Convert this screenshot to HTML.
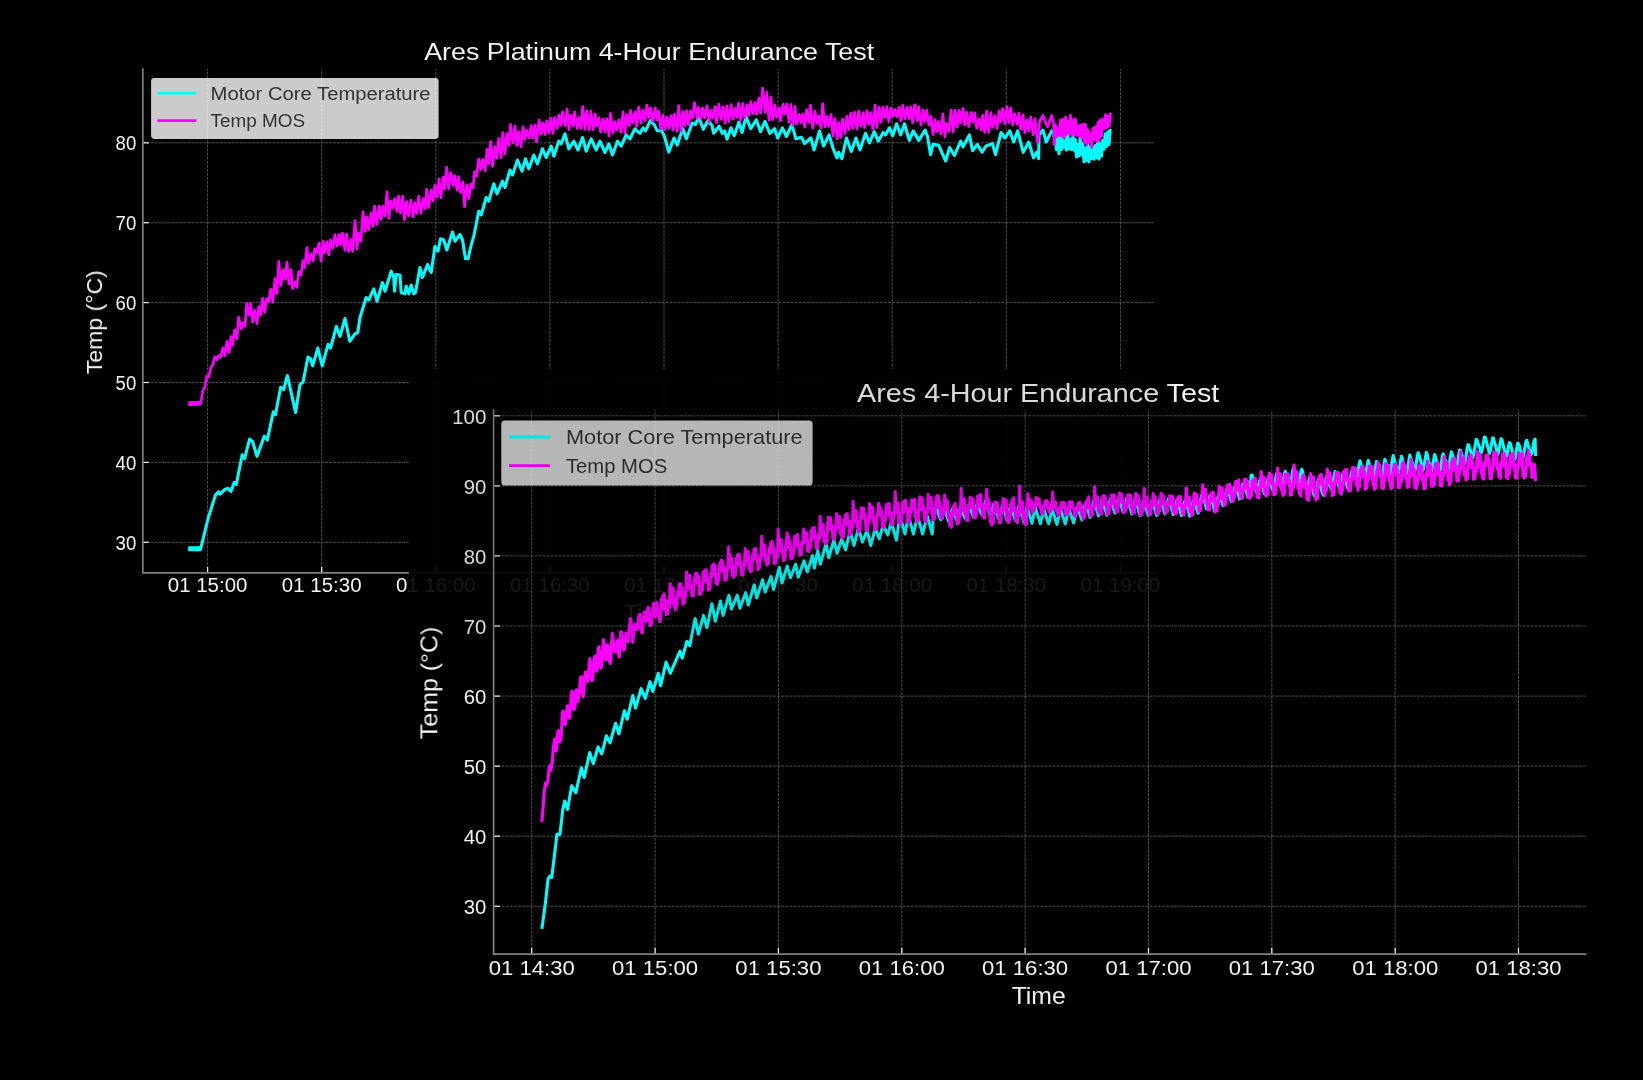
<!DOCTYPE html>
<html><head><meta charset="utf-8"><title>Endurance Test Charts</title>
<style>
html,body{margin:0;padding:0;background:#000;}
body{width:1643px;height:1080px;overflow:hidden;font-family:"Liberation Sans",sans-serif;}
svg{display:block;}
text{font-family:"Liberation Sans",sans-serif;}
</style></head><body>
<svg width="1643" height="1080" viewBox="0 0 1643 1080">
<rect width="1643" height="1080" fill="#000"/>
<g id="chart1" opacity="0.999">
<path d="M207.6,572.9 V69" stroke="#5a5a5a" stroke-width="0.9" stroke-dasharray="3 1.05" fill="none"/>
<path d="M321.7,572.9 V69" stroke="#5a5a5a" stroke-width="0.9" stroke-dasharray="3 1.05" fill="none"/>
<path d="M435.8,572.9 V69" stroke="#5a5a5a" stroke-width="0.9" stroke-dasharray="3 1.05" fill="none"/>
<path d="M549.9,572.9 V69" stroke="#5a5a5a" stroke-width="0.9" stroke-dasharray="3 1.05" fill="none"/>
<path d="M664.0,572.9 V69" stroke="#5a5a5a" stroke-width="0.9" stroke-dasharray="3 1.05" fill="none"/>
<path d="M778.1,572.9 V69" stroke="#5a5a5a" stroke-width="0.9" stroke-dasharray="3 1.05" fill="none"/>
<path d="M892.2,572.9 V69" stroke="#5a5a5a" stroke-width="0.9" stroke-dasharray="3 1.05" fill="none"/>
<path d="M1006.3,572.9 V69" stroke="#5a5a5a" stroke-width="0.9" stroke-dasharray="3 1.05" fill="none"/>
<path d="M1120.4,572.9 V69" stroke="#5a5a5a" stroke-width="0.9" stroke-dasharray="3 1.05" fill="none"/>
<path d="M142.8,542.3 H1155" stroke="#5a5a5a" stroke-width="0.9" stroke-dasharray="3 1.05" fill="none"/>
<path d="M142.8,462.4 H1155" stroke="#5a5a5a" stroke-width="0.9" stroke-dasharray="3 1.05" fill="none"/>
<path d="M142.8,382.5 H1155" stroke="#5a5a5a" stroke-width="0.9" stroke-dasharray="3 1.05" fill="none"/>
<path d="M142.8,302.6 H1155" stroke="#5a5a5a" stroke-width="0.9" stroke-dasharray="3 1.05" fill="none"/>
<path d="M142.8,222.7 H1155" stroke="#5a5a5a" stroke-width="0.9" stroke-dasharray="3 1.05" fill="none"/>
<path d="M142.8,142.8 H1155" stroke="#5a5a5a" stroke-width="0.9" stroke-dasharray="3 1.05" fill="none"/>
<path d="M188.3,548.7 L201.2,548.7" fill="none" stroke="#00ffff" stroke-width="5.0" stroke-linejoin="round" stroke-linecap="butt"/>
<path d="M188.3,548.7 L200.7,548.7 L208.1,518.5 L215.6,494.8 L218.5,491.9 L220.0,494.2 L224.4,489.8 L228.0,488.3 L231.0,491.3 L234.2,482.4 L236.3,484.4 L242.2,454.8 L244.6,458.7 L249.6,439.1 L252.6,441.5 L257.0,456.3 L264.4,436.1 L267.4,440.0 L273.3,411.9 L275.4,414.8 L280.7,387.3 L283.7,389.6 L287.3,375.7 L290.2,388.1 L295.6,412.4 L300.0,384.6 L303.0,382.2 L308.0,357.0 L310.4,358.5 L312.7,365.9 L317.8,348.1 L322.2,365.9 L328.1,344.3 L330.5,348.1 L336.4,326.5 L340.0,336.3 L345.0,318.5 L349.8,341.3 L354.8,334.2 L357.8,332.4 L360.0,317.5 L366.2,297.5 L368.8,300.0 L373.8,288.8 L377.0,301.2 L382.5,282.5 L385.0,291.2 L391.2,271.2 L393.8,277.5 L394.5,291.2 L396.2,274.5 L400.0,275.0 L401.2,292.5 L405.0,293.8 L406.2,286.2 L408.8,293.8 L411.2,285.0 L413.8,293.8 L415.5,292.5 L420.0,267.5 L422.5,277.5 L427.5,264.5 L431.2,272.5 L435.0,246.2 L438.0,251.2 L440.5,238.8 L443.8,240.0 L446.8,250.0 L452.5,232.0 L455.0,241.2 L460.0,234.5 L462.5,240.0 L465.5,258.8 L468.0,258.8 L471.2,245.0 L473.8,236.2 L478.8,211.2 L481.2,215.0 L486.2,197.5 L488.8,201.2 L493.8,183.8 L497.0,193.8 L502.5,181.2 L505.0,187.5 L510.0,170.0 L512.5,175.0 L517.5,160.0 L522.0,171.2 L525.5,158.8 L528.8,168.8 L533.8,155.0 L537.5,163.8 L542.5,148.8 L546.2,157.5 L551.2,146.2 L553.8,156.2 L558.8,141.2 L561.2,143.8 L565.0,133.8 L568.8,148.8 L573.8,141.2 L578.0,150.0 L582.5,137.5 L586.2,151.2 L591.2,138.8 L596.2,150.0 L600.0,141.2 L605.0,152.5 L608.8,143.8 L612.5,155.0 L617.5,141.2 L621.2,146.2 L626.2,135.0 L630.0,138.8 L635.0,128.8 L638.8,132.5 L640.0,133.3 L643.2,127.8 L645.5,130.9 L650.3,120.6 L654.2,124.6 L657.4,130.9 L661.4,130.1 L664.5,136.5 L668.8,152.0 L674.0,138.0 L677.2,145.2 L682.7,128.6 L686.4,138.8 L692.2,123.0 L695.4,124.6 L698.6,116.7 L703.3,129.3 L708.0,120.6 L712.0,125.4 L713.6,133.3 L719.1,126.2 L722.3,133.3 L724.7,130.9 L727.0,139.2 L731.0,127.8 L734.2,135.7 L738.9,122.2 L742.1,132.5 L746.0,116.7 L750.8,128.6 L756.3,119.8 L760.6,131.7 L765.0,121.4 L769.8,133.3 L774.5,128.6 L777.7,138.0 L782.4,127.8 L786.4,136.5 L791.9,124.6 L795.9,138.8 L801.4,137.3 L804.6,143.6 L810.9,138.0 L814.1,149.9 L819.6,130.9 L823.6,146.0 L829.1,134.9 L833.1,148.3 L837.0,157.8 L838.6,152.3 L841.8,158.6 L846.5,138.0 L851.3,151.5 L856.0,138.0 L860.0,149.9 L865.5,133.3 L869.5,142.8 L874.2,131.7 L878.2,141.2 L880.0,138.0 L883.2,132.5 L885.5,134.9 L889.5,127.8 L892.7,135.7 L896.6,123.8 L900.6,134.9 L904.5,123.8 L909.3,140.4 L913.2,130.9 L918.8,140.4 L925.1,130.1 L927.5,136.5 L930.6,154.7 L933.0,144.4 L938.6,145.2 L945.7,161.0 L949.6,147.5 L954.4,155.5 L960.7,141.2 L963.1,146.8 L969.4,134.9 L972.6,150.7 L977.3,144.4 L982.1,152.3 L986.0,146.0 L992.4,143.6 L995.5,154.7 L1001.1,132.5 L1005.0,138.0 L1009.8,130.9 L1013.7,142.0 L1017.7,130.9 L1023.2,152.3 L1028.8,142.0 L1033.5,157.8 L1036.7,152.3 L1038.7,158.6 L1039.0,134.9 L1043.0,130.1 L1046.2,142.0 L1051.7,130.9 L1054.1,133.3 L1054.0,136.9 L1055.2,132.5 L1056.5,149.7 L1057.8,134.2 L1059.0,153.7 L1060.2,135.3 L1061.5,149.5 L1062.8,138.7 L1064.0,147.2 L1065.2,134.9 L1066.5,150.2 L1067.8,132.8 L1069.0,148.9 L1070.2,139.9 L1071.5,149.4 L1072.8,134.4 L1074.0,150.1 L1075.2,139.4 L1076.5,157.0 L1077.8,144.2 L1079.0,156.0 L1080.2,138.4 L1081.5,154.7 L1082.8,143.3 L1084.0,161.8 L1085.2,148.3 L1086.5,160.4 L1087.8,144.5 L1089.0,162.0 L1090.2,147.1 L1091.5,158.7 L1092.8,147.1 L1094.0,159.2 L1095.2,145.6 L1096.5,157.6 L1097.8,141.1 L1099.0,159.2 L1100.2,143.7 L1101.5,156.0 L1102.8,140.5 L1104.0,149.3 L1105.2,133.8 L1106.5,146.4 L1107.8,132.0 L1109.0,144.5 L1110.2,128.8" fill="none" stroke="#00ffff" stroke-width="3.1" stroke-linejoin="round" stroke-linecap="butt"/>
<path d="M188.3,403.6 L201.0,403.1" fill="none" stroke="#ff00ff" stroke-width="4.6" stroke-linejoin="round" stroke-linecap="butt"/>
<path d="M200.8,403.0 L200.8,403.3 L203.1,389.8 L204.6,387.8 L207.0,376.0 L208.8,376.6 L210.8,367.8 L212.9,364.5 L214.8,357.0 L216.8,359.6 L218.5,355.6 L220.5,357.1 L223.0,348.0 L224.9,355.9 L227.0,341.5 L229.2,352.5 L231.0,336.5 L232.5,345.4 L234.7,329.9 L236.9,338.6 L238.6,317.0 L241.2,329.0 L243.1,322.7 L245.1,326.0 L246.8,303.4 L249.1,315.0 L250.6,303.4 L252.7,322.0 L254.8,310.3 L257.0,323.9 L258.8,306.5 L260.6,315.2 L262.7,298.2 L264.7,312.3 L266.7,298.7 L268.6,301.6 L270.8,289.0 L272.8,302.1 L275.0,278.5 L277.0,293.5 L278.8,261.4 L280.8,285.4 L283.0,269.9 L285.1,279.2 L287.0,262.2 L289.0,284.1 L291.1,269.5 L292.5,288.7 L295.1,282.1 L296.7,287.4 L298.8,271.5 L301.0,275.3 L303.0,260.6 L304.6,267.5 L306.9,247.7 L308.5,263.4 L310.7,253.7 L313.1,260.9 L314.8,248.9 L316.9,253.2 L319.0,243.0 L321.1,261.1 L323.0,241.4 L324.5,252.8 L326.8,241.6 L328.8,254.8 L330.5,239.8 L332.9,248.3 L334.9,234.5 L337.1,245.9 L339.1,234.7 L340.6,244.8 L342.6,233.1 L344.9,250.4 L346.6,234.0 L348.6,251.5 L350.9,239.6 L352.6,251.4 L355.0,220.6 L357.1,248.9 L358.5,233.1 L360.9,241.1 L363.0,211.8 L365.2,231.5 L366.7,216.8 L368.6,229.7 L371.1,212.8 L373.1,226.4 L374.6,206.1 L376.8,224.5 L379.0,206.0 L381.1,219.5 L382.6,206.3 L384.9,215.9 L387.0,191.8 L388.9,218.3 L390.6,201.2 L392.5,208.1 L394.7,198.9 L397.0,211.4 L398.5,196.2 L400.5,213.1 L402.7,196.1 L404.5,219.6 L406.6,201.7 L408.5,215.8 L410.9,200.1 L413.0,217.0 L414.8,202.6 L416.6,213.3 L418.7,196.3 L420.9,213.3 L423.1,198.7 L425.2,208.8 L426.7,189.3 L428.5,207.7 L431.1,190.4 L433.1,201.0 L434.8,185.3 L437.0,196.9 L439.1,179.0 L440.9,197.7 L443.1,177.2 L444.5,189.1 L446.7,167.3 L448.7,189.0 L450.6,172.7 L453.1,185.5 L454.5,175.5 L457.0,190.1 L458.5,176.7 L460.7,192.5 L462.8,181.9 L464.6,206.7 L466.8,184.9 L468.9,198.5 L470.7,184.0 L473.0,188.0 L474.6,171.6 L476.6,176.2 L478.7,159.2 L480.7,169.5 L482.6,159.4 L485.1,170.9 L487.1,149.0 L488.6,163.6 L490.7,141.7 L492.6,166.3 L494.8,146.7 L496.7,158.4 L498.8,138.4 L501.1,157.7 L502.8,132.5 L504.9,154.1 L506.9,133.7 L509.0,145.5 L510.5,124.3 L513.0,142.8 L515.1,126.2 L516.9,145.5 L518.7,131.6 L521.0,146.8 L523.0,126.6 L524.9,139.6 L526.6,130.1 L529.2,137.7 L531.2,125.5 L532.8,137.9 L534.9,124.8 L536.5,141.8 L539.2,120.2 L541.1,134.0 L542.9,123.0 L545.0,134.6 L546.6,120.9 L548.7,132.8 L550.7,118.2 L552.9,133.4 L554.5,117.6 L557.1,128.2 L558.8,115.2 L560.8,125.2 L562.6,111.9 L565.0,125.6 L567.1,109.2 L568.9,129.7 L570.7,115.4 L573.0,125.9 L574.6,111.8 L577.1,128.6 L578.9,117.5 L580.7,128.6 L582.8,106.5 L584.9,129.3 L586.7,110.9 L589.1,130.0 L590.8,111.0 L593.1,129.6 L595.1,114.0 L596.6,125.8 L598.9,117.8 L600.7,132.1 L603.0,119.2 L604.9,131.8 L606.8,118.5 L609.1,136.2 L610.5,113.4 L612.9,132.7 L614.7,121.6 L616.5,130.2 L619.0,120.1 L620.9,132.4 L623.1,111.9 L624.9,133.1 L626.7,114.5 L629.2,125.7 L630.6,110.4 L632.5,122.7 L635.0,111.9 L636.7,126.4 L638.7,107.0 L641.1,122.9 L642.7,110.4 L645.1,120.4 L646.9,105.0 L648.7,117.5 L650.5,108.1 L652.7,121.3 L655.2,107.5 L656.8,120.0 L658.6,111.1 L660.7,129.2 L663.1,115.1 L664.6,130.0 L667.0,117.1 L668.6,128.4 L671.2,115.6 L672.9,130.0 L674.5,114.2 L677.1,131.5 L678.7,105.6 L681.0,131.0 L682.8,111.6 L684.5,126.0 L686.6,110.5 L688.6,125.0 L690.6,110.9 L692.5,117.9 L694.5,102.6 L697.1,118.4 L698.5,107.3 L700.8,118.5 L702.6,108.0 L704.6,117.9 L707.0,105.7 L709.1,121.7 L710.8,110.3 L712.5,117.7 L715.2,106.5 L716.5,122.7 L718.8,104.1 L720.9,119.3 L723.1,106.9 L725.1,123.2 L726.9,105.8 L728.8,121.6 L731.1,104.6 L733.1,119.0 L735.1,108.3 L737.0,117.4 L738.6,103.1 L740.7,120.4 L742.8,103.4 L744.8,117.6 L747.1,104.8 L748.6,115.3 L750.9,101.7 L752.7,113.7 L755.0,102.6 L756.6,114.2 L758.8,98.0 L760.6,113.2 L762.6,88.0 L765.1,112.2 L766.7,92.1 L769.1,120.4 L770.9,97.3 L772.5,119.7 L775.0,104.8 L776.5,117.2 L779.1,108.1 L780.5,120.9 L783.0,104.3 L784.6,114.0 L786.7,103.8 L789.2,122.3 L790.8,104.3 L792.9,125.2 L795.0,106.4 L796.6,124.1 L799.1,114.3 L801.1,122.7 L802.6,114.2 L804.9,127.1 L806.7,109.5 L809.0,122.4 L810.5,105.0 L812.8,128.1 L815.0,111.2 L817.0,123.3 L818.6,116.0 L821.1,127.9 L822.6,103.7 L825.0,126.9 L826.8,116.5 L828.6,126.3 L831.0,114.4 L833.0,136.2 L835.0,118.6 L837.2,138.8 L838.7,122.5 L840.6,137.3 L842.6,119.2 L844.9,133.7 L846.8,116.3 L848.7,129.5 L850.8,113.0 L852.7,128.4 L854.5,112.3 L856.8,129.1 L858.7,110.9 L860.8,126.0 L863.1,112.5 L864.6,127.6 L866.9,110.6 L868.9,124.2 L870.7,112.5 L872.8,129.0 L875.2,105.0 L876.7,127.7 L879.0,107.3 L881.1,122.2 L882.7,107.1 L885.2,117.5 L886.9,106.5 L888.8,121.7 L891.0,108.2 L892.8,116.2 L895.0,109.5 L896.7,116.8 L899.1,107.4 L900.9,121.0 L902.7,105.2 L904.8,118.9 L907.1,107.3 L909.0,118.6 L910.8,106.9 L912.7,122.9 L914.7,104.8 L917.2,120.6 L918.6,106.5 L921.1,124.9 L923.1,110.2 L924.6,121.5 L926.7,110.0 L928.9,124.9 L931.0,116.3 L933.1,134.6 L935.2,119.7 L936.7,131.6 L938.6,121.6 L940.8,133.9 L942.9,113.9 L944.9,136.8 L946.6,123.6 L948.9,131.3 L951.1,110.2 L953.1,132.2 L955.1,110.0 L957.1,127.2 L959.2,110.3 L960.5,122.9 L963.1,108.4 L964.7,124.8 L966.7,112.4 L968.8,126.6 L971.2,112.7 L972.9,121.7 L974.7,112.5 L976.7,128.2 L979.1,119.0 L981.1,130.1 L982.6,115.3 L984.7,132.4 L986.7,110.9 L988.6,132.3 L990.9,112.6 L992.6,127.5 L994.9,115.9 L997.1,128.4 L999.1,110.8 L1000.6,121.6 L1002.6,108.5 L1004.8,123.9 L1006.9,106.5 L1008.8,122.6 L1010.7,108.0 L1012.7,124.9 L1014.6,113.9 L1017.1,124.1 L1019.0,112.9 L1020.8,129.3 L1023.0,114.9 L1024.8,132.7 L1026.9,120.1 L1028.7,131.0 L1030.8,117.0 L1033.2,134.7 L1035.0,118.7 L1037.1,140.4 L1037.9,142.5 L1039.6,121.7 L1042.9,115.4 L1047.5,127.1 L1051.7,115.4 L1053.6,123.3 L1054.2,144.7 L1055.5,124.8 L1056.7,136.7 L1058.0,128.2 L1059.2,135.3 L1060.5,119.9 L1061.7,135.9 L1063.0,119.0 L1064.2,138.1 L1065.5,117.0 L1066.7,134.4 L1068.0,121.4 L1069.2,133.2 L1070.5,115.4 L1071.7,135.6 L1073.0,119.9 L1074.2,134.1 L1075.5,118.9 L1076.7,135.6 L1078.0,125.6 L1079.2,136.5 L1080.5,125.2 L1081.7,137.6 L1083.0,124.3 L1084.2,142.5 L1085.5,124.4 L1086.7,144.7 L1088.0,129.9 L1089.2,141.7 L1090.5,133.2 L1091.7,147.5 L1093.0,128.1 L1094.2,138.8 L1095.5,126.7 L1096.7,141.6 L1098.0,122.2 L1099.2,140.6 L1100.5,119.7 L1101.7,136.1 L1103.0,118.8 L1104.2,128.6 L1105.5,114.6 L1106.7,127.9 L1108.0,116.2 L1109.2,126.1 L1110.5,112.6" fill="none" stroke="#ff00ff" stroke-width="2.7" stroke-linejoin="round" stroke-linecap="butt"/>
<path d="M142.8,69 V572.9 H1155" stroke="#828282" stroke-width="1.7" fill="none" stroke-linecap="square"/>
<path d="M207.6,572.0 v-5" stroke="#f0f0f0" stroke-width="1.25" fill="none"/>
<text x="207.6" y="592.4" font-size="19.3" text-anchor="middle" textLength="79.7" lengthAdjust="spacingAndGlyphs" fill="#f4f4f4" >01 15:00</text>
<path d="M321.7,572.0 v-5" stroke="#f0f0f0" stroke-width="1.25" fill="none"/>
<text x="321.7" y="592.4" font-size="19.3" text-anchor="middle" textLength="79.7" lengthAdjust="spacingAndGlyphs" fill="#f4f4f4" >01 15:30</text>
<path d="M435.8,572.0 v-5" stroke="#f0f0f0" stroke-width="1.25" fill="none"/>
<text x="435.8" y="592.4" font-size="19.3" text-anchor="middle" textLength="79.7" lengthAdjust="spacingAndGlyphs" fill="#f4f4f4" >01 16:00</text>
<path d="M549.9,572.0 v-5" stroke="#f0f0f0" stroke-width="1.25" fill="none"/>
<text x="549.9" y="592.4" font-size="19.3" text-anchor="middle" textLength="79.7" lengthAdjust="spacingAndGlyphs" fill="#f4f4f4" >01 16:30</text>
<path d="M664.0,572.0 v-5" stroke="#f0f0f0" stroke-width="1.25" fill="none"/>
<text x="664.0" y="592.4" font-size="19.3" text-anchor="middle" textLength="79.7" lengthAdjust="spacingAndGlyphs" fill="#f4f4f4" >01 17:00</text>
<path d="M778.1,572.0 v-5" stroke="#f0f0f0" stroke-width="1.25" fill="none"/>
<text x="778.1" y="592.4" font-size="19.3" text-anchor="middle" textLength="79.7" lengthAdjust="spacingAndGlyphs" fill="#f4f4f4" >01 17:30</text>
<path d="M892.2,572.0 v-5" stroke="#f0f0f0" stroke-width="1.25" fill="none"/>
<text x="892.2" y="592.4" font-size="19.3" text-anchor="middle" textLength="79.7" lengthAdjust="spacingAndGlyphs" fill="#f4f4f4" >01 18:00</text>
<path d="M1006.3,572.0 v-5" stroke="#f0f0f0" stroke-width="1.25" fill="none"/>
<text x="1006.3" y="592.4" font-size="19.3" text-anchor="middle" textLength="79.7" lengthAdjust="spacingAndGlyphs" fill="#f4f4f4" >01 18:30</text>
<path d="M1120.4,572.0 v-5" stroke="#f0f0f0" stroke-width="1.25" fill="none"/>
<text x="1120.4" y="592.4" font-size="19.3" text-anchor="middle" textLength="79.7" lengthAdjust="spacingAndGlyphs" fill="#f4f4f4" >01 19:00</text>
<path d="M143.70000000000002,542.3 h5" stroke="#f0f0f0" stroke-width="1.25" fill="none"/>
<text x="136.2" y="549.7" font-size="19.3" text-anchor="end" textLength="20.6" lengthAdjust="spacingAndGlyphs" fill="#f4f4f4" >30</text>
<path d="M143.70000000000002,462.4 h5" stroke="#f0f0f0" stroke-width="1.25" fill="none"/>
<text x="136.2" y="469.8" font-size="19.3" text-anchor="end" textLength="20.6" lengthAdjust="spacingAndGlyphs" fill="#f4f4f4" >40</text>
<path d="M143.70000000000002,382.5 h5" stroke="#f0f0f0" stroke-width="1.25" fill="none"/>
<text x="136.2" y="389.9" font-size="19.3" text-anchor="end" textLength="20.6" lengthAdjust="spacingAndGlyphs" fill="#f4f4f4" >50</text>
<path d="M143.70000000000002,302.6 h5" stroke="#f0f0f0" stroke-width="1.25" fill="none"/>
<text x="136.2" y="310.0" font-size="19.3" text-anchor="end" textLength="20.6" lengthAdjust="spacingAndGlyphs" fill="#f4f4f4" >60</text>
<path d="M143.70000000000002,222.7 h5" stroke="#f0f0f0" stroke-width="1.25" fill="none"/>
<text x="136.2" y="230.1" font-size="19.3" text-anchor="end" textLength="20.6" lengthAdjust="spacingAndGlyphs" fill="#f4f4f4" >70</text>
<path d="M143.70000000000002,142.8 h5" stroke="#f0f0f0" stroke-width="1.25" fill="none"/>
<text x="136.2" y="150.2" font-size="19.3" text-anchor="end" textLength="20.6" lengthAdjust="spacingAndGlyphs" fill="#f4f4f4" >80</text>
<text x="649.2" y="60.4" font-size="24.6" text-anchor="middle" textLength="450" lengthAdjust="spacingAndGlyphs" fill="#f4f4f4" >Ares Platinum 4-Hour Endurance Test</text>
<text x="0" y="0" font-size="22.5" text-anchor="middle" textLength="104" lengthAdjust="spacingAndGlyphs" fill="#f4f4f4" transform="translate(102.0,322.2) rotate(-90)">Temp (°C)</text>
<text x="649" y="619.5" font-size="22.2" text-anchor="middle" textLength="50" lengthAdjust="spacingAndGlyphs" fill="#f4f4f4" >Time</text>
<rect x="151.1" y="78.0" width="287.5" height="60.9" rx="3.3" fill="#ffffff" fill-opacity="0.8"/>
<path d="M157.4,93.1 H196.4" stroke="#00ffff" stroke-width="2.6"/>
<path d="M157.4,120.6 H196.4" stroke="#ff00ff" stroke-width="2.6"/>
<text x="210.6" y="99.9" font-size="18.3" text-anchor="start" textLength="220.0" lengthAdjust="spacingAndGlyphs" fill="#333333" >Motor Core Temperature</text>
<text x="210.6" y="127.0" font-size="18.3" text-anchor="start" textLength="94.6" lengthAdjust="spacingAndGlyphs" fill="#333333" >Temp MOS</text>
</g>
<rect x="408.8" y="369" width="762.9" height="271" fill="#000" fill-opacity="0.89"/>
<g id="chart2" opacity="0.999">
<path d="M531.7,954.1 V410" stroke="#5a5a5a" stroke-width="0.9" stroke-dasharray="3 1.05" fill="none"/>
<path d="M655.1,954.1 V410" stroke="#5a5a5a" stroke-width="0.9" stroke-dasharray="3 1.05" fill="none"/>
<path d="M778.4,954.1 V410" stroke="#5a5a5a" stroke-width="0.9" stroke-dasharray="3 1.05" fill="none"/>
<path d="M901.8,954.1 V410" stroke="#5a5a5a" stroke-width="0.9" stroke-dasharray="3 1.05" fill="none"/>
<path d="M1025.1,954.1 V410" stroke="#5a5a5a" stroke-width="0.9" stroke-dasharray="3 1.05" fill="none"/>
<path d="M1148.5,954.1 V410" stroke="#5a5a5a" stroke-width="0.9" stroke-dasharray="3 1.05" fill="none"/>
<path d="M1271.8,954.1 V410" stroke="#5a5a5a" stroke-width="0.9" stroke-dasharray="3 1.05" fill="none"/>
<path d="M1395.2,954.1 V410" stroke="#5a5a5a" stroke-width="0.9" stroke-dasharray="3 1.05" fill="none"/>
<path d="M1518.5,954.1 V410" stroke="#5a5a5a" stroke-width="0.9" stroke-dasharray="3 1.05" fill="none"/>
<path d="M493.6,906.3 H1585.5" stroke="#5a5a5a" stroke-width="0.9" stroke-dasharray="3 1.05" fill="none"/>
<path d="M493.6,836.2 H1585.5" stroke="#5a5a5a" stroke-width="0.9" stroke-dasharray="3 1.05" fill="none"/>
<path d="M493.6,766.1 H1585.5" stroke="#5a5a5a" stroke-width="0.9" stroke-dasharray="3 1.05" fill="none"/>
<path d="M493.6,696.1 H1585.5" stroke="#5a5a5a" stroke-width="0.9" stroke-dasharray="3 1.05" fill="none"/>
<path d="M493.6,626.0 H1585.5" stroke="#5a5a5a" stroke-width="0.9" stroke-dasharray="3 1.05" fill="none"/>
<path d="M493.6,555.9 H1585.5" stroke="#5a5a5a" stroke-width="0.9" stroke-dasharray="3 1.05" fill="none"/>
<path d="M493.6,485.9 H1585.5" stroke="#5a5a5a" stroke-width="0.9" stroke-dasharray="3 1.05" fill="none"/>
<path d="M493.6,415.8 H1585.5" stroke="#5a5a5a" stroke-width="0.9" stroke-dasharray="3 1.05" fill="none"/>
<path d="M541.9,928.9 L545.3,903.9 L548.1,878.9 L550.0,876.1 L551.7,877.5 L555.0,851.1 L556.9,834.4 L560.0,834.4 L562.8,809.4 L564.7,801.1 L567.5,809.4 L571.7,785.8 L575.8,792.8 L581.4,767.8 L584.2,777.5 L589.7,752.5 L593.3,763.6 L598.1,746.9 L601.7,753.9 L606.4,735.8 L610.0,742.8 L615.6,723.3 L618.9,733.9 L624.4,710.8 L627.2,719.2 L632.8,695.6 L635.6,708.1 L641.1,688.6 L645.3,698.3 L650.0,681.7 L652.8,691.4 L658.3,673.3 L660.6,685.8 L666.1,662.2 L670.3,673.3 L680.0,651.1 L682.2,658.1 L686.9,641.4 L689.7,645.6 L695.2,618.6 L698.4,634.2 L703.6,615.4 L706.9,627.7 L712.0,603.7 L715.3,621.2 L720.5,601.1 L723.1,615.4 L728.9,595.3 L731.5,608.9 L737.3,595.3 L739.9,608.2 L745.7,592.7 L748.3,605.0 L754.2,584.9 L756.8,597.9 L762.6,579.7 L765.2,592.0 L771.0,576.5 L773.6,589.4 L779.4,567.4 L782.0,583.0 L787.2,566.1 L790.5,577.8 L795.7,564.2 L798.2,577.1 L804.1,560.9 L807.3,571.9 L812.5,555.7 L814.4,568.1 L817.7,550.6 L820.3,564.2 L826.1,543.4 L828.7,557.7 L833.9,540.2 L837.1,553.2 L841.7,538.9 L845.6,549.9 L850.1,530.5 L854.0,545.4 L858.5,527.9 L862.4,542.1 L867.0,530.5 L870.8,545.4 L875.4,527.9 L879.3,538.9 L883.2,524.6 L887.7,535.0 L891.3,521.8 L896.4,540.1 L899.8,515.7 L905.0,534.0 L908.4,515.7 L913.5,534.0 L917.5,515.7 L922.6,534.0 L927.2,515.7 L932.3,534.0 L933.3,514.2 L934.2,510.8 L935.0,507.3 L935.8,506.2 L936.7,508.1 L937.5,510.6 L938.3,513.3 L939.2,516.4 L940.0,518.3 L940.8,519.7 L941.6,516.3 L942.5,512.9 L943.3,509.5 L944.1,508.0 L945.0,510.1 L945.8,513.0 L946.6,515.7 L947.5,518.0 L948.3,520.9 L949.1,521.8 L949.9,518.2 L950.8,514.6 L951.6,511.0 L952.4,509.1 L953.3,511.5 L954.1,513.4 L954.9,515.1 L955.8,517.9 L956.6,520.4 L957.4,520.4 L958.2,516.9 L959.1,512.9 L959.9,509.7 L960.7,506.8 L961.6,509.9 L962.4,511.6 L963.2,514.0 L964.1,515.9 L964.9,518.2 L965.7,518.8 L966.5,515.8 L967.4,511.4 L968.2,507.6 L969.0,505.1 L969.9,507.1 L970.7,509.5 L971.5,511.6 L972.4,514.5 L973.2,516.6 L974.0,517.1 L974.8,513.8 L975.7,509.2 L976.5,505.9 L977.3,503.4 L978.2,505.0 L979.0,507.2 L979.8,510.0 L980.7,512.1 L981.5,514.6 L982.3,515.0 L983.1,511.2 L984.0,507.2 L984.8,503.6 L985.6,500.8 L986.5,504.1 L987.3,506.3 L988.1,509.4 L989.0,512.1 L989.8,514.4 L990.6,516.9 L991.4,513.8 L992.3,509.8 L993.1,506.5 L993.9,503.8 L994.8,507.1 L995.6,509.7 L996.4,512.6 L997.3,514.7 L998.1,517.4 L998.9,519.1 L999.7,515.8 L1000.6,513.0 L1001.4,509.0 L1002.2,505.8 L1003.1,508.0 L1003.9,511.2 L1004.7,512.8 L1005.6,515.9 L1006.4,518.3 L1007.2,520.3 L1008.0,516.6 L1008.9,512.8 L1009.7,509.0 L1010.5,505.7 L1011.4,508.5 L1012.2,510.3 L1013.0,513.0 L1013.9,516.0 L1014.7,518.6 L1015.5,520.5 L1016.3,516.3 L1017.2,513.4 L1018.0,509.9 L1018.8,506.2 L1019.7,508.7 L1020.5,511.3 L1021.3,514.2 L1022.2,516.4 L1023.0,519.0 L1023.8,522.2 L1024.6,518.1 L1025.5,514.5 L1026.3,510.6 L1027.1,506.9 L1028.0,509.6 L1028.8,512.2 L1029.6,515.4 L1030.5,518.1 L1031.3,520.8 L1032.1,523.3 L1032.9,518.8 L1033.8,514.9 L1034.6,511.9 L1035.4,507.8 L1036.3,511.1 L1037.1,513.2 L1037.9,515.8 L1038.8,518.4 L1039.6,520.9 L1040.4,523.7 L1041.2,519.6 L1042.1,516.6 L1042.9,512.7 L1043.7,509.0 L1044.6,511.6 L1045.4,513.9 L1046.2,516.8 L1047.1,519.2 L1047.9,521.6 L1048.7,523.7 L1049.5,520.6 L1050.4,516.9 L1051.2,513.3 L1052.0,509.6 L1052.9,511.7 L1053.7,513.8 L1054.5,516.4 L1055.4,519.8 L1056.2,522.3 L1057.0,524.4 L1057.8,520.5 L1058.7,516.6 L1059.5,512.7 L1060.3,509.5 L1061.2,511.2 L1062.0,513.7 L1062.8,516.6 L1063.7,518.6 L1064.5,521.4 L1065.3,524.0 L1066.1,520.4 L1067.0,516.1 L1067.8,512.5 L1068.6,508.2 L1069.5,510.4 L1070.3,513.0 L1071.1,515.1 L1072.0,518.3 L1072.8,520.4 L1073.6,523.0 L1074.4,519.5 L1075.3,514.7 L1076.1,510.4 L1076.9,507.1 L1077.8,508.2 L1078.6,510.8 L1079.4,513.4 L1080.3,515.2 L1081.1,517.9 L1081.9,520.0 L1082.7,516.5 L1083.6,512.1 L1084.4,508.1 L1085.2,503.9 L1086.1,505.8 L1086.9,508.0 L1087.7,510.6 L1088.6,512.5 L1089.4,514.7 L1090.2,517.5 L1091.0,513.9 L1091.9,510.2 L1092.7,505.5 L1093.5,501.2 L1094.4,503.0 L1095.2,505.0 L1096.0,508.1 L1096.9,510.4 L1097.7,512.7 L1098.5,515.8 L1099.3,512.9 L1100.2,508.3 L1101.0,504.6 L1101.8,500.6 L1102.7,502.2 L1103.5,504.3 L1104.3,507.2 L1105.2,510.3 L1106.0,511.9 L1106.8,515.2 L1107.6,511.9 L1108.5,507.9 L1109.3,503.5 L1110.1,499.5 L1111.0,500.6 L1111.8,503.6 L1112.6,506.0 L1113.5,508.6 L1114.3,511.2 L1115.1,513.1 L1115.9,510.8 L1116.8,506.7 L1117.6,501.7 L1118.4,498.1 L1119.3,499.1 L1120.1,501.5 L1120.9,504.7 L1121.8,507.5 L1122.6,510.3 L1123.4,512.4 L1124.2,511.0 L1125.1,506.4 L1125.9,502.8 L1126.7,498.2 L1127.6,499.7 L1128.4,501.9 L1129.2,505.2 L1130.1,508.1 L1130.9,510.6 L1131.7,513.9 L1132.5,511.5 L1133.4,507.2 L1134.2,503.2 L1135.0,499.3 L1135.9,500.6 L1136.7,504.1 L1137.5,506.4 L1138.4,509.8 L1139.2,512.6 L1140.0,515.5 L1140.8,513.6 L1141.7,509.2 L1142.5,505.9 L1143.3,501.4 L1144.2,502.5 L1145.0,504.3 L1145.8,507.1 L1146.7,509.9 L1147.5,513.2 L1148.3,515.3 L1149.1,513.7 L1150.0,509.6 L1150.8,505.4 L1151.6,501.0 L1152.5,502.0 L1153.3,504.3 L1154.1,506.8 L1155.0,509.9 L1155.8,512.2 L1156.6,515.4 L1157.4,512.9 L1158.3,509.3 L1159.1,504.2 L1159.9,500.1 L1160.8,500.2 L1161.6,503.2 L1162.4,505.7 L1163.3,508.4 L1164.1,511.1 L1164.9,513.9 L1165.7,511.8 L1166.6,507.5 L1167.4,503.1 L1168.2,498.9 L1169.1,499.7 L1169.9,503.0 L1170.7,505.9 L1171.6,508.9 L1172.4,511.0 L1173.2,514.6 L1174.0,512.6 L1174.9,509.2 L1175.7,505.1 L1176.5,500.7 L1177.4,501.3 L1178.2,503.7 L1179.0,506.8 L1179.9,509.5 L1180.7,512.9 L1181.5,515.5 L1182.3,514.2 L1183.2,509.9 L1184.0,505.9 L1184.8,501.0 L1185.7,501.5 L1186.5,503.8 L1187.3,506.8 L1188.2,509.5 L1189.0,512.9 L1189.8,516.2 L1190.6,514.4 L1191.5,510.0 L1192.3,505.9 L1193.1,500.7 L1194.0,500.4 L1194.8,503.0 L1195.6,505.2 L1196.5,508.5 L1197.3,510.5 L1198.1,513.1 L1198.9,510.9 L1199.8,506.7 L1200.6,500.8 L1201.4,496.1 L1202.3,494.4 L1203.1,496.6 L1203.9,498.8 L1204.8,502.2 L1205.6,505.1 L1206.4,508.7 L1207.2,508.3 L1208.1,503.9 L1208.9,500.4 L1209.7,495.7 L1210.6,495.8 L1211.4,499.2 L1212.2,502.2 L1213.1,504.8 L1213.9,508.1 L1214.7,511.3 L1215.5,511.0 L1216.4,507.0 L1217.2,502.2 L1218.0,496.5 L1218.9,495.2 L1219.7,496.8 L1220.5,499.6 L1221.4,501.1 L1222.2,503.0 L1223.0,505.5 L1223.8,504.4 L1224.7,499.5 L1225.5,495.5 L1226.3,490.4 L1227.2,488.3 L1228.0,491.2 L1228.8,493.7 L1229.7,496.0 L1230.5,499.5 L1231.3,501.5 L1232.1,501.2 L1233.0,496.3 L1233.8,491.7 L1234.6,487.5 L1235.5,485.8 L1236.3,487.9 L1237.1,491.1 L1238.0,493.5 L1238.8,496.0 L1239.6,499.0 L1240.4,498.3 L1241.3,494.2 L1242.1,489.0 L1242.9,484.1 L1243.8,483.2 L1244.6,485.3 L1245.4,488.6 L1246.3,491.5 L1247.1,494.2 L1247.9,497.2 L1248.7,496.3 L1249.6,491.7 L1250.4,485.0 L1251.2,475.2 L1252.1,475.0 L1252.9,478.2 L1253.7,481.7 L1254.6,485.1 L1255.4,488.6 L1256.2,491.8 L1257.0,492.4 L1257.9,488.6 L1258.7,484.4 L1259.5,481.0 L1260.4,479.3 L1261.2,483.3 L1262.0,485.3 L1262.9,488.3 L1263.7,491.6 L1264.5,494.1 L1265.3,494.1 L1266.2,489.6 L1267.0,484.6 L1267.8,479.6 L1268.7,478.2 L1269.5,480.8 L1270.3,483.2 L1271.2,485.3 L1272.0,488.1 L1272.8,490.2 L1273.6,490.2 L1274.5,486.2 L1275.3,480.6 L1276.1,475.5 L1277.0,473.4 L1277.8,475.7 L1278.6,478.6 L1279.5,480.9 L1280.3,484.2 L1281.1,487.0 L1281.9,487.6 L1282.8,482.8 L1283.6,478.9 L1284.4,474.1 L1285.3,471.4 L1286.1,474.1 L1286.9,477.2 L1287.8,479.6 L1288.6,481.8 L1289.4,485.1 L1290.2,485.7 L1291.1,481.1 L1291.9,476.0 L1292.7,470.4 L1293.6,467.7 L1294.4,470.0 L1295.2,473.3 L1296.1,477.0 L1296.9,480.0 L1297.7,483.1 L1298.5,485.0 L1299.4,481.0 L1300.2,476.6 L1301.0,471.5 L1301.9,469.3 L1302.7,472.3 L1303.5,476.4 L1304.4,480.8 L1305.2,484.0 L1306.0,488.4 L1306.8,490.4 L1307.7,486.7 L1308.5,483.4 L1309.3,479.2 L1310.2,477.2 L1311.0,481.5 L1311.8,484.8 L1312.7,488.7 L1313.5,492.7 L1314.3,495.5 L1315.1,496.7 L1316.0,492.0 L1316.8,487.8 L1317.6,482.6 L1318.5,479.2 L1319.3,482.6 L1320.1,485.5 L1321.0,488.2 L1321.8,491.3 L1322.6,493.3 L1323.4,495.2 L1324.3,490.8 L1325.1,485.8 L1325.9,479.9 L1326.8,476.5 L1327.6,478.4 L1328.4,481.1 L1329.3,483.9 L1330.1,486.3 L1330.9,488.1 L1331.7,489.6 L1332.6,485.1 L1333.4,480.0 L1334.2,475.4 L1335.1,471.6 L1335.9,474.9 L1336.7,477.8 L1337.6,480.7 L1338.4,483.9 L1339.2,487.2 L1340.0,489.2 L1340.9,484.7 L1341.7,479.9 L1342.5,475.4 L1343.4,472.2 L1344.2,475.3 L1345.0,478.3 L1345.9,480.7 L1346.7,484.2 L1347.5,487.3 L1348.3,489.2 L1349.2,484.7 L1350.0,480.5 L1350.8,475.8 L1351.7,471.0 L1352.5,472.2 L1353.3,473.9 L1354.2,476.4 L1355.0,478.1 L1355.8,479.5 L1356.6,480.6 L1357.5,474.9 L1358.3,469.5 L1359.1,464.6 L1360.0,460.8 L1360.8,463.4 L1361.6,466.9 L1362.5,469.5 L1363.3,473.3 L1364.1,475.8 L1364.9,478.1 L1365.8,474.3 L1366.6,469.2 L1367.4,464.8 L1368.3,460.3 L1369.1,463.5 L1369.9,466.8 L1370.8,469.9 L1371.6,473.2 L1372.4,476.1 L1373.2,479.2 L1374.1,474.2 L1374.9,470.1 L1375.7,465.6 L1376.6,461.4 L1377.4,464.2 L1378.2,466.6 L1379.1,469.9 L1379.9,473.3 L1380.7,476.3 L1381.5,478.6 L1382.4,473.9 L1383.2,469.7 L1384.0,464.9 L1384.9,459.4 L1385.7,462.1 L1386.5,464.8 L1387.4,467.8 L1388.2,469.8 L1389.0,473.0 L1389.8,475.6 L1390.7,470.0 L1391.5,465.4 L1392.3,459.9 L1393.2,455.6 L1394.0,458.3 L1394.8,461.6 L1395.7,464.7 L1396.5,468.4 L1397.3,471.6 L1398.1,474.2 L1399.0,470.0 L1399.8,466.0 L1400.6,460.6 L1401.5,456.3 L1402.3,459.0 L1403.1,462.1 L1404.0,464.7 L1404.8,467.8 L1405.6,470.7 L1406.4,474.3 L1407.3,470.1 L1408.1,465.5 L1408.9,460.4 L1409.8,455.0 L1410.6,458.1 L1411.4,460.0 L1412.3,462.9 L1413.1,465.5 L1413.9,468.6 L1414.7,471.7 L1415.6,467.6 L1416.4,462.3 L1417.2,456.8 L1418.1,452.7 L1418.9,454.2 L1419.7,457.4 L1420.6,460.5 L1421.4,464.3 L1422.2,466.9 L1423.0,470.4 L1423.9,466.4 L1424.7,461.7 L1425.5,457.3 L1426.4,452.2 L1427.2,454.7 L1428.0,458.6 L1428.9,461.6 L1429.7,464.7 L1430.5,468.3 L1431.3,471.7 L1432.2,468.3 L1433.0,463.7 L1433.8,459.4 L1434.7,454.6 L1435.5,456.8 L1436.3,460.2 L1437.2,463.3 L1438.0,465.4 L1438.8,468.6 L1439.6,471.6 L1440.5,468.1 L1441.3,463.3 L1442.1,458.4 L1443.0,453.8 L1443.8,455.2 L1444.6,458.6 L1445.5,460.8 L1446.3,464.6 L1447.1,466.7 L1447.9,470.4 L1448.8,466.7 L1449.6,462.1 L1450.4,456.9 L1451.3,451.9 L1452.1,453.6 L1452.9,456.1 L1453.8,459.2 L1454.6,462.3 L1455.4,464.8 L1456.2,468.3 L1457.1,464.8 L1457.9,460.0 L1458.7,455.1 L1459.6,450.1 L1460.4,450.2 L1461.2,452.9 L1462.1,455.4 L1462.9,458.8 L1463.7,460.8 L1464.5,463.7 L1465.4,459.8 L1466.2,455.4 L1467.0,449.4 L1467.9,444.8 L1468.7,444.8 L1469.5,448.2 L1470.4,450.3 L1471.2,453.1 L1472.0,455.7 L1472.8,457.9 L1473.7,454.9 L1474.5,449.3 L1475.3,444.9 L1476.2,439.4 L1477.0,439.8 L1477.8,442.5 L1478.7,445.0 L1479.5,447.4 L1480.3,450.1 L1481.1,453.1 L1482.0,450.6 L1482.8,446.4 L1483.6,441.6 L1484.5,437.1 L1485.3,437.3 L1486.1,440.8 L1487.0,443.7 L1487.8,446.9 L1488.6,450.1 L1489.4,453.5 L1490.3,451.1 L1491.1,446.5 L1491.9,441.9 L1492.8,437.9 L1493.6,438.1 L1494.4,441.7 L1495.3,444.9 L1496.1,447.7 L1496.9,451.2 L1497.7,454.4 L1498.6,452.3 L1499.4,447.9 L1500.2,443.1 L1501.1,438.8 L1501.9,439.4 L1502.7,443.0 L1503.6,446.8 L1504.4,450.1 L1505.2,453.8 L1506.0,456.8 L1506.9,455.5 L1507.7,451.0 L1508.5,446.5 L1509.4,442.7 L1510.2,442.9 L1511.0,446.5 L1511.9,449.7 L1512.7,453.5 L1513.5,456.4 L1514.3,459.8 L1515.2,458.6 L1516.0,453.5 L1516.8,448.8 L1517.7,443.3 L1518.5,443.8 L1519.3,445.9 L1520.2,449.7 L1521.0,452.5 L1521.8,455.2 L1522.6,457.5 L1523.5,456.0 L1524.3,451.5 L1525.1,446.3 L1526.0,441.3 L1526.8,440.3 L1527.6,443.2 L1528.5,446.6 L1529.3,449.2 L1530.1,452.1 L1530.9,454.6 L1531.8,453.1 L1532.6,449.2 L1533.4,444.1 L1534.3,440.1 L1535.1,439.1 L1535.6,456.0" fill="none" stroke="#00ffff" stroke-width="3.1" stroke-linejoin="round" stroke-linecap="butt"/>
<path d="M541.9,821.9 L542.7,812.5 L543.4,802.6 L544.2,792.1 L544.9,787.2 L545.7,782.9 L546.4,785.8 L547.2,783.3 L547.9,781.2 L548.7,772.1 L549.4,767.7 L550.2,765.4 L550.9,770.4 L551.7,765.9 L552.4,762.5 L553.2,748.8 L553.9,743.9 L554.7,739.1 L555.4,749.3 L556.2,751.0 L556.9,745.4 L557.7,732.6 L558.4,730.9 L559.2,730.9 L559.9,741.9 L560.7,739.2 L561.4,734.3 L562.2,714.6 L562.9,711.2 L563.7,712.6 L564.4,722.4 L565.2,724.8 L565.9,719.5 L566.7,711.9 L567.4,705.8 L568.2,709.7 L568.9,716.6 L569.7,718.1 L570.4,708.6 L571.2,695.8 L571.9,691.4 L572.7,692.3 L573.4,707.2 L574.2,709.5 L574.9,708.2 L575.7,693.3 L576.4,689.7 L577.2,692.3 L577.9,701.6 L578.7,693.8 L579.4,693.8 L580.2,681.6 L580.9,676.8 L581.7,677.4 L582.4,690.4 L583.2,696.6 L583.9,691.2 L584.7,676.4 L585.4,672.3 L586.2,672.2 L586.9,680.3 L587.7,681.5 L588.4,676.7 L589.2,664.0 L589.9,658.6 L590.7,664.4 L591.4,678.8 L592.2,680.6 L592.9,675.5 L593.7,664.9 L594.4,657.8 L595.2,656.2 L595.9,667.2 L596.7,671.3 L597.4,665.4 L598.2,648.9 L598.9,646.8 L599.7,654.4 L600.4,667.4 L601.2,668.2 L601.9,663.5 L602.7,650.3 L603.4,639.6 L604.2,644.7 L604.9,657.9 L605.7,659.7 L606.4,659.3 L607.2,644.8 L607.9,645.5 L608.7,647.8 L609.4,661.6 L610.2,663.3 L610.9,656.7 L611.7,639.6 L612.4,633.3 L613.2,639.1 L613.9,651.2 L614.7,651.7 L615.4,650.9 L616.2,644.4 L616.9,643.0 L617.7,640.2 L618.4,652.9 L619.2,657.1 L619.9,649.2 L620.7,631.7 L621.4,632.1 L622.2,634.4 L622.9,643.6 L623.7,650.2 L624.4,648.9 L625.2,635.5 L625.9,633.0 L626.7,634.1 L627.4,640.6 L628.2,641.6 L628.9,631.3 L629.7,624.8 L630.4,618.5 L631.2,622.2 L631.9,633.2 L632.7,642.2 L633.4,637.4 L634.2,627.5 L634.9,624.4 L635.7,626.0 L636.4,629.4 L637.2,624.2 L637.9,627.7 L638.7,616.4 L639.4,614.5 L640.2,614.4 L640.9,630.4 L641.7,632.6 L642.4,632.9 L643.2,620.9 L643.9,614.3 L644.7,611.8 L645.4,616.6 L646.2,621.5 L646.9,620.4 L647.7,607.6 L648.4,607.6 L649.2,614.0 L649.9,625.7 L650.7,625.5 L651.4,624.1 L652.2,612.9 L652.9,607.1 L653.7,603.2 L654.4,613.9 L655.2,616.9 L655.9,613.4 L656.7,602.2 L657.4,607.3 L658.2,611.0 L658.9,616.7 L659.7,621.6 L660.4,620.4 L661.2,599.6 L661.9,602.7 L662.7,595.7 L663.4,609.4 L664.2,593.8 L664.9,607.0 L665.7,599.6 L666.4,614.6 L667.2,603.1 L667.9,613.8 L668.7,601.2 L669.4,607.6 L670.2,583.7 L670.9,602.3 L671.7,589.7 L672.4,602.0 L673.2,587.7 L673.9,606.4 L674.7,597.7 L675.4,609.9 L676.2,596.5 L676.9,607.3 L677.7,591.4 L678.4,594.6 L679.2,584.4 L679.9,596.0 L680.7,583.8 L681.4,594.8 L682.2,587.3 L682.9,604.3 L683.7,593.0 L684.4,602.8 L685.2,591.8 L685.9,596.9 L686.7,571.9 L687.4,588.8 L688.2,577.4 L688.9,587.6 L689.7,575.3 L690.4,589.4 L691.2,586.9 L691.9,595.6 L692.7,585.2 L693.4,596.0 L694.2,580.7 L694.9,577.1 L695.7,573.7 L696.4,583.2 L697.2,573.0 L697.9,583.5 L698.7,576.5 L699.4,594.6 L700.2,584.3 L700.9,593.6 L701.7,583.9 L702.4,590.2 L703.2,572.1 L703.9,575.3 L704.7,570.4 L705.4,580.7 L706.2,569.8 L706.9,582.6 L707.7,579.7 L708.4,590.2 L709.2,578.9 L709.9,589.2 L710.7,573.3 L711.4,576.6 L712.2,565.6 L712.9,575.2 L713.7,564.0 L714.4,574.9 L715.2,565.6 L715.9,583.2 L716.7,574.0 L717.4,584.5 L718.2,574.4 L718.9,580.3 L719.7,563.8 L720.4,571.2 L721.2,560.1 L721.9,569.5 L722.7,560.8 L723.4,571.0 L724.2,566.8 L724.9,580.3 L725.7,570.9 L726.4,579.7 L727.2,568.2 L727.9,569.4 L728.7,546.7 L729.4,567.3 L730.2,554.4 L730.9,566.7 L731.7,558.5 L732.4,575.6 L733.2,568.3 L733.9,577.4 L734.7,566.3 L735.4,575.3 L736.2,558.4 L736.9,565.2 L737.7,554.7 L738.4,563.9 L739.2,554.1 L739.9,564.9 L740.7,561.4 L741.4,574.6 L742.2,564.6 L742.9,575.3 L743.7,564.4 L744.4,566.3 L745.2,548.6 L745.9,562.1 L746.7,552.3 L747.4,560.9 L748.2,551.4 L748.9,568.7 L749.7,562.5 L750.4,571.7 L751.2,561.4 L751.9,570.8 L752.7,554.2 L753.4,555.2 L754.2,549.3 L754.9,558.9 L755.7,548.3 L756.4,557.5 L757.2,555.1 L757.9,569.7 L758.7,559.1 L759.4,568.0 L760.2,559.1 L760.9,559.2 L761.7,536.4 L762.4,555.2 L763.2,544.6 L763.9,554.3 L764.7,544.7 L765.4,560.7 L766.2,555.9 L766.9,565.2 L767.7,555.7 L768.4,563.6 L769.2,548.2 L769.9,552.7 L770.7,542.9 L771.4,552.1 L772.2,541.2 L772.9,551.3 L773.7,547.3 L774.4,563.6 L775.2,553.4 L775.9,563.0 L776.7,552.0 L777.4,557.5 L778.2,529.1 L778.9,550.3 L779.7,540.1 L780.4,549.6 L781.2,539.3 L781.9,553.2 L782.7,549.9 L783.4,560.5 L784.2,550.2 L784.9,559.6 L785.7,544.8 L786.4,542.4 L787.2,532.8 L787.9,547.4 L788.7,536.9 L789.4,546.5 L790.2,541.3 L790.9,558.8 L791.7,548.4 L792.4,558.3 L793.2,548.9 L793.9,553.4 L794.7,536.5 L795.4,541.5 L796.2,535.7 L796.9,545.7 L797.7,534.4 L798.4,547.3 L799.2,544.2 L799.9,555.1 L800.7,544.4 L801.4,554.5 L802.2,542.1 L802.9,544.2 L803.7,529.0 L804.4,542.3 L805.2,531.9 L805.9,540.4 L806.7,533.0 L807.4,551.0 L808.2,542.5 L808.9,551.6 L809.7,540.7 L810.4,548.2 L811.2,530.6 L811.9,532.6 L812.7,528.1 L813.4,538.2 L814.2,527.2 L814.9,539.7 L815.7,536.5 L816.4,548.6 L817.2,538.7 L817.9,547.6 L818.7,533.4 L819.4,538.8 L820.2,516.3 L820.9,535.1 L821.7,524.0 L822.4,531.4 L823.2,524.4 L823.9,541.2 L824.7,534.7 L825.4,543.8 L826.2,534.0 L826.9,542.5 L827.7,524.1 L828.4,517.3 L829.2,519.6 L829.9,528.9 L830.7,517.9 L831.4,529.2 L832.2,525.3 L832.9,538.8 L833.7,529.3 L834.4,539.4 L835.2,526.9 L835.9,531.2 L836.7,513.5 L837.4,527.5 L838.2,516.4 L838.9,525.5 L839.7,516.6 L840.4,533.8 L841.2,525.8 L841.9,537.9 L842.7,527.1 L843.4,537.3 L844.2,519.3 L844.9,524.5 L845.7,514.6 L846.4,524.5 L847.2,513.6 L847.9,523.9 L848.7,520.7 L849.4,535.1 L850.2,524.9 L850.9,534.1 L851.7,521.7 L852.4,527.9 L853.2,501.3 L853.9,521.9 L854.7,510.4 L855.4,521.3 L856.2,510.8 L856.9,526.6 L857.7,521.5 L858.4,532.2 L859.2,522.0 L859.9,530.7 L860.7,515.7 L861.4,507.9 L862.2,508.4 L862.9,518.2 L863.7,508.0 L864.4,517.9 L865.2,513.8 L865.9,530.2 L866.7,519.2 L867.4,530.8 L868.2,520.5 L868.9,524.0 L869.7,503.5 L870.4,517.1 L871.2,506.3 L871.9,517.5 L872.7,507.4 L873.4,521.8 L874.2,518.7 L874.9,529.9 L875.7,518.4 L876.4,529.1 L877.2,514.1 L877.9,514.4 L878.7,503.3 L879.4,514.9 L880.2,506.8 L880.9,516.5 L881.7,510.5 L882.4,526.9 L883.2,518.1 L883.9,527.4 L884.7,517.1 L885.4,521.0 L886.2,504.9 L886.9,512.4 L887.7,504.1 L888.4,514.3 L889.2,503.6 L889.9,517.1 L890.7,513.4 L891.4,524.8 L892.2,514.2 L892.9,524.3 L893.7,512.4 L894.4,514.5 L895.2,491.5 L895.9,513.1 L896.7,502.4 L897.4,512.0 L898.2,503.5 L898.9,522.4 L899.7,514.5 L900.4,524.6 L901.2,514.0 L901.9,521.5 L902.7,502.4 L903.4,505.7 L904.2,501.0 L904.9,511.9 L905.7,500.4 L906.4,511.9 L907.2,509.0 L907.9,522.8 L908.7,512.6 L909.4,522.3 L910.2,507.6 L910.9,513.0 L911.7,499.8 L912.4,509.4 L913.2,499.8 L913.9,509.3 L914.7,499.5 L915.4,517.5 L916.2,511.0 L916.9,521.6 L917.7,510.9 L918.4,520.2 L919.2,502.9 L919.9,496.7 L920.7,499.5 L921.4,509.7 L922.2,497.8 L922.9,509.2 L923.7,507.0 L924.4,520.2 L925.2,510.9 L925.9,521.8 L926.7,510.7 L927.4,512.7 L928.2,494.4 L928.9,508.4 L929.7,498.8 L930.4,508.1 L931.2,497.2 L931.9,514.4 L932.7,510.2 L933.4,520.0 L934.2,509.7 L934.9,518.5 L935.7,502.1 L936.4,497.7 L937.2,495.6 L937.9,507.2 L938.7,496.4 L939.4,506.8 L940.2,502.8 L940.9,517.7 L941.7,508.1 L942.4,518.9 L943.2,508.6 L943.9,514.3 L944.7,495.1 L945.4,509.9 L946.2,499.5 L946.9,510.1 L947.7,501.5 L948.4,517.4 L949.2,513.7 L949.9,526.0 L950.7,516.2 L951.4,527.5 L952.2,512.2 L952.9,515.7 L953.7,505.9 L954.4,512.7 L955.2,503.4 L955.9,514.2 L956.7,508.7 L957.4,524.1 L958.2,513.2 L958.9,522.9 L959.7,512.2 L960.4,516.4 L961.2,488.4 L961.9,510.7 L962.7,499.8 L963.4,509.3 L964.2,498.9 L964.9,513.7 L965.7,508.0 L966.4,520.1 L967.2,511.1 L967.9,520.7 L968.7,505.3 L969.4,507.9 L970.2,497.2 L970.9,506.7 L971.7,498.0 L972.4,507.5 L973.2,499.4 L973.9,517.6 L974.7,508.6 L975.4,518.0 L976.2,507.7 L976.9,514.1 L977.7,496.4 L978.4,497.2 L979.2,496.0 L979.9,505.9 L980.7,494.4 L981.4,508.5 L982.2,504.4 L982.9,517.1 L983.7,506.9 L984.4,518.1 L985.2,505.2 L985.9,505.9 L986.7,489.3 L987.4,508.8 L988.2,498.6 L988.9,510.9 L989.7,502.4 L990.4,522.1 L991.2,513.6 L991.9,525.1 L992.7,514.4 L993.4,523.1 L994.2,504.6 L994.9,502.1 L995.7,503.6 L996.4,511.4 L997.2,502.4 L997.9,512.6 L998.7,510.0 L999.4,523.0 L1000.2,511.5 L1000.9,522.3 L1001.7,508.8 L1002.4,512.8 L1003.2,498.5 L1003.9,510.3 L1004.7,499.6 L1005.4,509.4 L1006.2,500.4 L1006.9,519.3 L1007.7,511.7 L1008.4,522.8 L1009.2,512.4 L1009.9,521.3 L1010.7,504.6 L1011.4,503.8 L1012.2,499.9 L1012.9,510.9 L1013.7,497.7 L1014.4,510.2 L1015.2,507.7 L1015.9,521.5 L1016.7,512.7 L1017.4,523.0 L1018.2,512.2 L1018.9,516.1 L1019.7,486.1 L1020.4,511.6 L1021.2,500.7 L1021.9,512.0 L1022.7,502.2 L1023.4,519.4 L1024.2,513.4 L1024.9,524.5 L1025.7,514.8 L1026.4,524.7 L1027.2,505.4 L1027.9,493.7 L1028.7,499.0 L1029.4,507.2 L1030.2,499.0 L1030.9,506.1 L1031.7,501.6 L1032.4,512.1 L1033.2,504.0 L1033.9,510.7 L1034.7,505.7 L1035.4,506.1 L1036.2,497.5 L1036.9,504.4 L1037.7,498.4 L1038.4,504.4 L1039.2,499.1 L1039.9,508.0 L1040.7,506.3 L1041.4,513.0 L1042.2,508.0 L1042.9,513.8 L1043.7,505.5 L1044.4,506.9 L1045.2,501.4 L1045.9,506.5 L1046.7,500.6 L1047.4,505.6 L1048.2,502.5 L1048.9,512.3 L1049.7,506.0 L1050.4,511.3 L1051.2,505.9 L1051.9,509.1 L1052.7,492.1 L1053.4,506.6 L1054.2,501.2 L1054.9,507.1 L1055.7,502.2 L1056.4,511.0 L1057.2,508.9 L1057.9,515.4 L1058.7,509.9 L1059.4,514.8 L1060.2,507.1 L1060.9,508.5 L1061.7,502.3 L1062.4,508.0 L1063.2,502.2 L1063.9,507.6 L1064.7,503.3 L1065.4,514.4 L1066.2,508.2 L1066.9,514.3 L1067.7,508.8 L1068.4,512.3 L1069.2,501.9 L1069.9,507.9 L1070.7,502.0 L1071.4,507.6 L1072.2,501.8 L1072.9,508.8 L1073.7,508.1 L1074.4,515.5 L1075.2,509.7 L1075.9,516.4 L1076.7,508.5 L1077.4,510.5 L1078.2,503.3 L1078.9,509.4 L1079.7,502.4 L1080.4,510.2 L1081.2,504.4 L1081.9,514.6 L1082.7,511.3 L1083.4,519.1 L1084.2,510.5 L1084.9,517.2 L1085.7,502.8 L1086.4,502.0 L1087.2,500.0 L1087.9,508.0 L1088.7,496.8 L1089.4,507.3 L1090.2,505.8 L1090.9,516.2 L1091.7,506.9 L1092.4,515.3 L1093.2,506.2 L1093.9,508.3 L1094.7,486.9 L1095.4,504.9 L1096.2,496.6 L1096.9,504.5 L1097.7,497.0 L1098.4,511.1 L1099.2,506.6 L1099.9,513.7 L1100.7,506.5 L1101.4,514.3 L1102.2,499.2 L1102.9,495.9 L1103.7,495.9 L1104.4,504.0 L1105.2,496.0 L1105.9,504.8 L1106.7,502.7 L1107.4,514.3 L1108.2,505.1 L1108.9,513.4 L1109.7,505.2 L1110.4,507.4 L1111.2,495.4 L1111.9,502.7 L1112.7,495.1 L1113.4,503.5 L1114.2,494.7 L1114.9,507.7 L1115.7,503.4 L1116.4,511.9 L1117.2,504.2 L1117.9,511.9 L1118.7,498.5 L1119.4,492.7 L1120.2,493.7 L1120.9,501.8 L1121.7,494.4 L1122.4,502.5 L1123.2,499.4 L1123.9,512.6 L1124.7,503.7 L1125.4,511.8 L1126.2,504.0 L1126.9,507.7 L1127.7,494.9 L1128.4,503.2 L1129.2,494.9 L1129.9,503.0 L1130.7,495.1 L1131.4,507.6 L1132.2,505.6 L1132.9,513.4 L1133.7,505.7 L1134.4,513.2 L1135.2,499.0 L1135.9,493.2 L1136.7,496.0 L1137.4,504.1 L1138.2,495.7 L1138.9,505.5 L1139.7,500.6 L1140.4,515.4 L1141.2,506.1 L1141.9,514.6 L1142.7,507.2 L1143.4,511.1 L1144.2,488.5 L1144.9,496.3 L1145.7,497.2 L1146.4,505.4 L1147.2,497.6 L1147.9,508.5 L1148.7,504.5 L1149.4,514.8 L1150.2,506.4 L1150.9,514.5 L1151.7,501.1 L1152.4,505.6 L1153.2,493.6 L1153.9,504.5 L1154.7,496.5 L1155.4,504.9 L1156.2,499.3 L1156.9,513.2 L1157.7,505.5 L1158.4,513.9 L1159.2,505.7 L1159.9,510.8 L1160.7,496.2 L1161.4,493.4 L1162.2,495.4 L1162.9,503.9 L1163.7,495.7 L1164.4,505.4 L1165.2,503.2 L1165.9,513.2 L1166.7,504.2 L1167.4,511.4 L1168.2,502.3 L1168.9,504.6 L1169.7,495.7 L1170.4,503.1 L1171.2,495.8 L1171.9,504.5 L1172.7,496.5 L1173.4,512.0 L1174.2,505.9 L1174.9,513.7 L1175.7,506.1 L1176.4,513.2 L1177.2,498.9 L1177.9,498.4 L1178.7,496.7 L1179.4,505.4 L1180.2,496.5 L1180.9,505.3 L1181.7,504.1 L1182.4,513.9 L1183.2,506.1 L1183.9,515.0 L1184.7,505.5 L1185.4,506.3 L1186.2,488.1 L1186.9,505.6 L1187.7,497.8 L1188.4,505.5 L1189.2,496.8 L1189.9,511.6 L1190.7,507.7 L1191.4,515.6 L1192.2,506.7 L1192.9,514.4 L1193.7,500.0 L1194.4,493.0 L1195.2,496.5 L1195.9,504.3 L1196.7,494.2 L1197.4,503.7 L1198.2,500.1 L1198.9,511.4 L1199.7,502.6 L1200.4,510.1 L1201.2,501.4 L1201.9,502.7 L1202.7,484.7 L1203.4,498.0 L1204.2,489.4 L1204.9,498.4 L1205.7,489.6 L1206.4,503.2 L1207.2,500.8 L1207.9,509.7 L1208.7,500.9 L1209.4,510.0 L1210.2,495.9 L1210.9,496.7 L1211.7,492.7 L1212.4,500.7 L1213.2,492.2 L1213.9,501.1 L1214.7,497.5 L1215.4,512.1 L1216.2,502.9 L1216.9,510.6 L1217.7,501.4 L1218.4,505.1 L1219.2,486.1 L1219.9,498.9 L1220.7,489.7 L1221.4,496.9 L1222.2,488.1 L1222.9,500.2 L1223.7,497.5 L1224.4,505.5 L1225.2,495.7 L1225.9,503.8 L1226.7,490.3 L1227.4,485.6 L1228.2,485.0 L1228.9,493.0 L1229.7,484.2 L1230.4,491.6 L1231.2,487.6 L1231.9,501.2 L1232.7,493.4 L1233.4,501.2 L1234.2,493.0 L1234.9,496.7 L1235.7,481.2 L1236.4,490.0 L1237.2,481.5 L1237.9,488.8 L1238.7,480.0 L1239.4,491.1 L1240.2,489.5 L1240.9,498.3 L1241.7,489.5 L1242.4,498.5 L1243.2,486.1 L1243.9,489.4 L1244.7,479.3 L1245.4,488.0 L1246.2,479.4 L1246.9,488.5 L1247.7,481.4 L1248.4,496.9 L1249.2,488.8 L1249.9,498.4 L1250.7,489.5 L1251.4,496.3 L1252.2,480.9 L1252.9,488.4 L1253.7,479.9 L1254.4,487.0 L1255.2,478.3 L1255.9,490.0 L1256.7,487.1 L1257.4,497.3 L1258.2,488.9 L1258.9,497.9 L1259.7,486.7 L1260.4,488.5 L1261.2,471.6 L1261.9,486.1 L1262.7,476.4 L1263.4,485.6 L1264.2,477.5 L1264.9,493.1 L1265.7,486.9 L1266.4,496.1 L1267.2,486.9 L1267.9,494.6 L1268.7,477.2 L1269.4,473.0 L1270.2,475.0 L1270.9,483.2 L1271.7,474.7 L1272.4,484.4 L1273.2,482.3 L1273.9,494.9 L1274.7,485.3 L1275.4,494.2 L1276.2,485.0 L1276.9,486.1 L1277.7,468.0 L1278.4,480.6 L1279.2,473.2 L1279.9,483.9 L1280.7,474.0 L1281.4,490.1 L1282.2,484.6 L1282.9,495.5 L1283.7,485.7 L1284.4,494.2 L1285.2,474.3 L1285.9,478.2 L1286.7,474.3 L1287.4,482.9 L1288.2,473.6 L1288.9,484.0 L1289.7,480.6 L1290.4,495.1 L1291.2,485.1 L1291.9,494.7 L1292.7,484.6 L1293.4,487.6 L1294.2,465.1 L1294.9,483.0 L1295.7,471.3 L1296.4,482.1 L1297.2,472.1 L1297.9,488.6 L1298.7,484.2 L1299.4,493.7 L1300.2,484.6 L1300.9,495.9 L1301.7,479.7 L1302.4,478.8 L1303.2,475.0 L1303.9,486.8 L1304.7,477.7 L1305.4,487.6 L1306.2,481.9 L1306.9,499.1 L1307.7,488.6 L1308.4,500.5 L1309.2,486.4 L1309.9,494.2 L1310.7,473.5 L1311.4,487.5 L1312.2,476.9 L1312.9,486.9 L1313.7,477.1 L1314.4,492.2 L1315.2,488.2 L1315.9,499.9 L1316.7,488.8 L1317.4,498.9 L1318.2,482.8 L1318.9,480.2 L1319.7,475.5 L1320.4,484.4 L1321.2,474.2 L1321.9,484.1 L1322.7,478.0 L1323.4,492.5 L1324.2,486.1 L1324.9,495.6 L1325.7,485.9 L1326.4,490.5 L1327.2,469.1 L1327.9,478.5 L1328.7,472.4 L1329.4,482.9 L1330.2,473.0 L1330.9,486.3 L1331.7,483.6 L1332.4,495.6 L1333.2,483.6 L1333.9,494.6 L1334.7,481.0 L1335.4,483.4 L1336.2,472.6 L1336.9,482.1 L1337.7,472.3 L1338.4,481.3 L1339.2,473.5 L1339.9,492.5 L1340.7,483.2 L1341.4,494.2 L1342.2,483.5 L1342.9,489.9 L1343.7,471.8 L1344.4,480.4 L1345.2,469.8 L1345.9,479.5 L1346.7,469.3 L1347.4,481.3 L1348.2,479.6 L1348.9,491.2 L1349.7,480.8 L1350.4,490.6 L1351.2,477.9 L1351.9,480.9 L1352.7,467.3 L1353.4,478.1 L1354.2,467.9 L1354.9,477.6 L1355.7,468.2 L1356.4,485.4 L1357.2,479.1 L1357.9,490.3 L1358.7,478.5 L1359.4,487.3 L1360.2,470.0 L1360.9,472.3 L1361.7,466.7 L1362.4,476.6 L1363.2,466.3 L1363.9,477.7 L1364.7,472.6 L1365.4,489.5 L1366.2,478.2 L1366.9,487.9 L1367.7,476.9 L1368.4,479.6 L1369.2,466.2 L1369.9,475.5 L1370.7,465.8 L1371.4,476.6 L1372.2,466.2 L1372.9,484.7 L1373.7,478.7 L1374.4,489.4 L1375.2,477.5 L1375.9,487.8 L1376.7,471.0 L1377.4,475.3 L1378.2,462.2 L1378.9,475.6 L1379.7,464.7 L1380.4,475.3 L1381.2,471.9 L1381.9,488.1 L1382.7,478.7 L1383.4,488.7 L1384.2,477.6 L1384.9,480.7 L1385.7,463.9 L1386.4,475.1 L1387.2,465.9 L1387.9,475.8 L1388.7,465.0 L1389.4,481.2 L1390.2,477.7 L1390.9,488.7 L1391.7,477.5 L1392.4,487.7 L1393.2,471.5 L1393.9,468.2 L1394.7,464.4 L1395.4,474.6 L1396.2,464.1 L1396.9,474.6 L1397.7,470.3 L1398.4,487.8 L1399.2,476.6 L1399.9,487.2 L1400.7,476.5 L1401.4,482.0 L1402.2,463.9 L1402.9,475.5 L1403.7,461.8 L1404.4,474.6 L1405.2,465.3 L1405.9,478.9 L1406.7,477.2 L1407.4,487.4 L1408.2,477.4 L1408.9,487.0 L1409.7,472.4 L1410.4,468.7 L1411.2,459.4 L1411.9,476.1 L1412.7,464.9 L1413.4,475.0 L1414.2,469.4 L1414.9,488.0 L1415.7,478.4 L1416.4,488.4 L1417.2,477.4 L1417.9,483.8 L1418.7,465.8 L1419.4,474.3 L1420.2,465.2 L1420.9,476.1 L1421.7,466.3 L1422.4,480.1 L1423.2,475.7 L1423.9,488.8 L1424.7,478.0 L1425.4,488.2 L1426.2,473.3 L1426.9,476.4 L1427.7,461.2 L1428.4,475.2 L1429.2,465.2 L1429.9,474.5 L1430.7,465.7 L1431.4,486.2 L1432.2,473.9 L1432.9,486.4 L1433.7,476.7 L1434.4,484.4 L1435.2,466.2 L1435.9,469.0 L1436.7,463.4 L1437.4,474.4 L1438.2,463.0 L1438.9,475.3 L1439.7,472.2 L1440.4,485.8 L1441.2,475.4 L1441.9,486.0 L1442.7,473.0 L1443.4,476.4 L1444.2,456.8 L1444.9,472.8 L1445.7,462.7 L1446.4,471.7 L1447.2,462.7 L1447.9,480.3 L1448.7,473.9 L1449.4,485.0 L1450.2,472.8 L1450.9,482.3 L1451.7,462.4 L1452.4,471.3 L1453.2,458.8 L1453.9,469.4 L1454.7,458.0 L1455.4,470.1 L1456.2,466.3 L1456.9,481.3 L1457.7,471.0 L1458.4,480.8 L1459.2,470.0 L1459.9,472.5 L1460.7,451.9 L1461.4,468.8 L1462.2,457.8 L1462.9,467.3 L1463.7,457.8 L1464.4,475.8 L1465.2,470.6 L1465.9,480.0 L1466.7,470.1 L1467.4,479.3 L1468.2,460.7 L1468.9,465.3 L1469.7,455.7 L1470.4,467.1 L1471.2,455.4 L1471.9,466.3 L1472.7,463.3 L1473.4,479.1 L1474.2,468.2 L1474.9,478.9 L1475.7,468.4 L1476.4,471.6 L1477.2,451.3 L1477.9,467.1 L1478.7,454.9 L1479.4,466.7 L1480.2,454.3 L1480.9,472.9 L1481.7,468.6 L1482.4,478.2 L1483.2,464.4 L1483.9,479.3 L1484.7,462.1 L1485.4,465.9 L1486.2,455.3 L1486.9,461.6 L1487.7,454.8 L1488.4,465.0 L1489.2,458.8 L1489.9,478.4 L1490.7,467.2 L1491.4,478.7 L1492.2,467.7 L1492.9,471.4 L1493.7,451.8 L1494.4,464.6 L1495.2,453.3 L1495.9,464.0 L1496.7,453.3 L1497.4,469.2 L1498.2,464.6 L1498.9,476.9 L1499.7,466.1 L1500.4,478.4 L1501.2,461.9 L1501.9,465.6 L1502.7,453.4 L1503.4,465.6 L1504.2,453.6 L1504.9,465.8 L1505.7,457.8 L1506.4,477.6 L1507.2,466.9 L1507.9,478.8 L1508.7,467.8 L1509.4,474.3 L1510.2,455.0 L1510.9,463.9 L1511.7,454.6 L1512.4,464.6 L1513.2,453.6 L1513.9,467.9 L1514.7,465.1 L1515.4,478.1 L1516.2,467.6 L1516.9,478.2 L1517.7,464.0 L1518.4,466.1 L1519.2,453.9 L1519.9,464.7 L1520.7,454.4 L1521.4,464.3 L1522.2,453.5 L1522.9,476.2 L1523.7,467.5 L1524.4,478.1 L1525.2,467.6 L1525.9,475.7 L1526.7,456.4 L1527.4,464.7 L1528.2,450.2 L1528.9,464.9 L1529.7,454.0 L1530.4,466.2 L1531.2,463.3 L1531.9,477.5 L1532.7,466.6 L1533.4,477.1 L1534.2,464.4 L1534.9,468.8 L1535.6,481.0" fill="none" stroke="#ff00ff" stroke-width="3.1" stroke-linejoin="round" stroke-linecap="butt"/>
<path d="M493.6,410 V954.1 H1585.5" stroke="#828282" stroke-width="1.7" fill="none" stroke-linecap="square"/>
<path d="M531.7,953.2 v-5.4" stroke="#f0f0f0" stroke-width="1.25" fill="none"/>
<text x="531.7" y="975.3" font-size="20.9" text-anchor="middle" textLength="86.1" lengthAdjust="spacingAndGlyphs" fill="#f4f4f4" >01 14:30</text>
<path d="M655.1,953.2 v-5.4" stroke="#f0f0f0" stroke-width="1.25" fill="none"/>
<text x="655.1" y="975.3" font-size="20.9" text-anchor="middle" textLength="86.1" lengthAdjust="spacingAndGlyphs" fill="#f4f4f4" >01 15:00</text>
<path d="M778.4,953.2 v-5.4" stroke="#f0f0f0" stroke-width="1.25" fill="none"/>
<text x="778.4" y="975.3" font-size="20.9" text-anchor="middle" textLength="86.1" lengthAdjust="spacingAndGlyphs" fill="#f4f4f4" >01 15:30</text>
<path d="M901.8,953.2 v-5.4" stroke="#f0f0f0" stroke-width="1.25" fill="none"/>
<text x="901.8" y="975.3" font-size="20.9" text-anchor="middle" textLength="86.1" lengthAdjust="spacingAndGlyphs" fill="#f4f4f4" >01 16:00</text>
<path d="M1025.1,953.2 v-5.4" stroke="#f0f0f0" stroke-width="1.25" fill="none"/>
<text x="1025.1" y="975.3" font-size="20.9" text-anchor="middle" textLength="86.1" lengthAdjust="spacingAndGlyphs" fill="#f4f4f4" >01 16:30</text>
<path d="M1148.5,953.2 v-5.4" stroke="#f0f0f0" stroke-width="1.25" fill="none"/>
<text x="1148.5" y="975.3" font-size="20.9" text-anchor="middle" textLength="86.1" lengthAdjust="spacingAndGlyphs" fill="#f4f4f4" >01 17:00</text>
<path d="M1271.8,953.2 v-5.4" stroke="#f0f0f0" stroke-width="1.25" fill="none"/>
<text x="1271.8" y="975.3" font-size="20.9" text-anchor="middle" textLength="86.1" lengthAdjust="spacingAndGlyphs" fill="#f4f4f4" >01 17:30</text>
<path d="M1395.2,953.2 v-5.4" stroke="#f0f0f0" stroke-width="1.25" fill="none"/>
<text x="1395.2" y="975.3" font-size="20.9" text-anchor="middle" textLength="86.1" lengthAdjust="spacingAndGlyphs" fill="#f4f4f4" >01 18:00</text>
<path d="M1518.5,953.2 v-5.4" stroke="#f0f0f0" stroke-width="1.25" fill="none"/>
<text x="1518.5" y="975.3" font-size="20.9" text-anchor="middle" textLength="86.1" lengthAdjust="spacingAndGlyphs" fill="#f4f4f4" >01 18:30</text>
<path d="M494.5,906.3 h5.4" stroke="#f0f0f0" stroke-width="1.25" fill="none"/>
<text x="486.4" y="914.2" font-size="20.9" text-anchor="end" textLength="22.6" lengthAdjust="spacingAndGlyphs" fill="#f4f4f4" >30</text>
<path d="M494.5,836.2 h5.4" stroke="#f0f0f0" stroke-width="1.25" fill="none"/>
<text x="486.4" y="844.1" font-size="20.9" text-anchor="end" textLength="22.6" lengthAdjust="spacingAndGlyphs" fill="#f4f4f4" >40</text>
<path d="M494.5,766.1 h5.4" stroke="#f0f0f0" stroke-width="1.25" fill="none"/>
<text x="486.4" y="774.0" font-size="20.9" text-anchor="end" textLength="22.6" lengthAdjust="spacingAndGlyphs" fill="#f4f4f4" >50</text>
<path d="M494.5,696.1 h5.4" stroke="#f0f0f0" stroke-width="1.25" fill="none"/>
<text x="486.4" y="704.0" font-size="20.9" text-anchor="end" textLength="22.6" lengthAdjust="spacingAndGlyphs" fill="#f4f4f4" >60</text>
<path d="M494.5,626.0 h5.4" stroke="#f0f0f0" stroke-width="1.25" fill="none"/>
<text x="486.4" y="633.9" font-size="20.9" text-anchor="end" textLength="22.6" lengthAdjust="spacingAndGlyphs" fill="#f4f4f4" >70</text>
<path d="M494.5,555.9 h5.4" stroke="#f0f0f0" stroke-width="1.25" fill="none"/>
<text x="486.4" y="563.8" font-size="20.9" text-anchor="end" textLength="22.6" lengthAdjust="spacingAndGlyphs" fill="#f4f4f4" >80</text>
<path d="M494.5,485.9 h5.4" stroke="#f0f0f0" stroke-width="1.25" fill="none"/>
<text x="486.4" y="493.8" font-size="20.9" text-anchor="end" textLength="22.6" lengthAdjust="spacingAndGlyphs" fill="#f4f4f4" >90</text>
<path d="M494.5,415.8 h5.4" stroke="#f0f0f0" stroke-width="1.25" fill="none"/>
<text x="486.4" y="423.7" font-size="20.9" text-anchor="end" textLength="34.2" lengthAdjust="spacingAndGlyphs" fill="#f4f4f4" >100</text>
<text x="1038.2" y="401.5" font-size="26.6" text-anchor="middle" textLength="362.3" lengthAdjust="spacingAndGlyphs" fill="#f4f4f4" >Ares 4-Hour Endurance Test</text>
<text x="0" y="0" font-size="24.3" text-anchor="middle" textLength="112.4" lengthAdjust="spacingAndGlyphs" fill="#f4f4f4" transform="translate(437.4,683) rotate(-90)">Temp (°C)</text>
<text x="1038.7" y="1004.3" font-size="24.0" text-anchor="middle" textLength="54.1" lengthAdjust="spacingAndGlyphs" fill="#f4f4f4" >Time</text>
<rect x="501.3" y="420.4" width="311.3" height="65.1" rx="3.6" fill="#ffffff" fill-opacity="0.8"/>
<path d="M509.1,437.0 H550.1" stroke="#00ffff" stroke-width="2.8"/>
<path d="M509.1,465.7 H550.1" stroke="#ff00ff" stroke-width="2.8"/>
<text x="565.9" y="443.8" font-size="19.8" text-anchor="start" textLength="236.8" lengthAdjust="spacingAndGlyphs" fill="#333333" >Motor Core Temperature</text>
<text x="565.9" y="472.7" font-size="19.8" text-anchor="start" textLength="101.4" lengthAdjust="spacingAndGlyphs" fill="#333333" >Temp MOS</text>
</g>
<rect x="408.8" y="369" width="762.9" height="271" fill="#000" fill-opacity="0.1"/>
</svg>
</body></html>
